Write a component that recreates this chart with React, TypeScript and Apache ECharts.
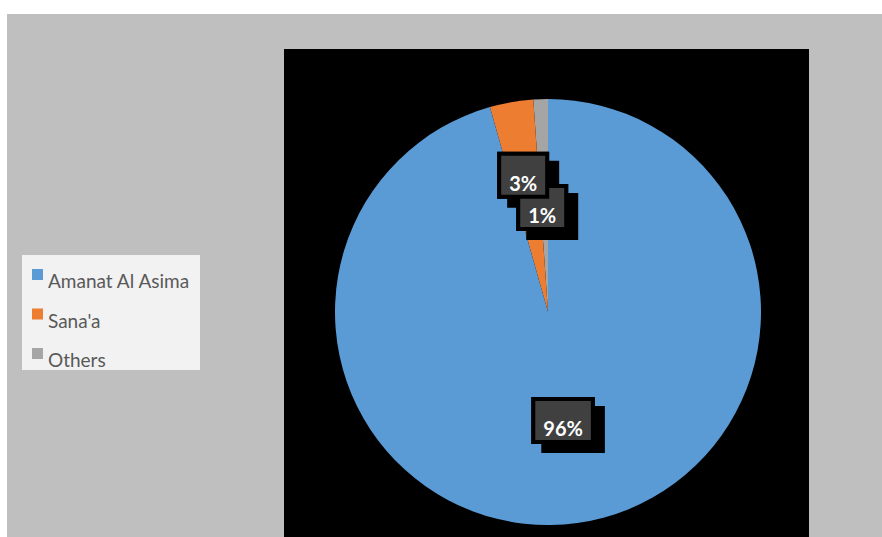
import React, { useEffect, useRef } from "react";
import * as echarts from "echarts";

const categories = ["Amanat Al Asima", "Sana'a", "Others"];
const values = [95.6, 3.3, 1.1];
const colors = ["#5B9BD5", "#ED7D31", "#A5A5A5"];

export default function App() {
  const ref = useRef<HTMLDivElement>(null);
  useEffect(() => {
    if (!ref.current) return;
    const chart = echarts.init(ref.current, undefined, { renderer: "svg" });
    // data drawn in reverse (counter-clockwise) so that the "3%" label sits above "1%"
    const order = [2, 1, 0];
    const labelShift: Record<string, [number, number]> = {
      "Amanat Al Asima": [0, 0],
      "Sana'a": [-6, -29],
      Others: [-2, 5],
    };
    const makeSeries = (shadowLayer: boolean) => ({
      type: "pie",
      name: shadowLayer ? "share" : "share-labels",
      center: [548, 312],
      radius: 213,
      startAngle: 90,
      clockwise: false,
      silent: !shadowLayer,
      data: order.map((i) => ({
        name: categories[i],
        value: values[i],
        itemStyle: { color: shadowLayer ? colors[i] : "rgba(0,0,0,0)" },
      })),
      itemStyle: { borderWidth: 0 },
      label: {
        show: true,
        position: "inside",
        formatter: (p: any) => "{s| }\n{v|" + Math.round(p.percent) + "%}",
        color: "#FFFFFF",
        fontFamily: "Lato",
        fontWeight: "bold",
        fontSize: 20,
        backgroundColor: shadowLayer ? "#000000" : "#404040",
        borderColor: "#000000",
        borderWidth: 4,
        padding: [3, 8, 2, 8],
        shadowColor: shadowLayer ? "#000000" : "transparent",
        shadowBlur: 0,
        shadowOffsetX: shadowLayer ? 10 : 0,
        shadowOffsetY: shadowLayer ? 9 : 0,
        rich: {
          s: { fontSize: 1, lineHeight: 14 },
          v: {
            fontFamily: "Lato",
            fontWeight: "bold",
            fontSize: 20,
            lineHeight: 20,
            color: shadowLayer ? "rgba(0,0,0,0)" : "#FFFFFF",
          },
        },
      },
      labelLine: { show: false },
      labelLayout: (params: any) => {
        const name = categories[order[params.dataIndex]];
        const s = labelShift[name] || [0, 0];
        return { dx: s[0], dy: s[1] };
      },
      emphasis: { disabled: true },
    });
    chart.setOption({
      animation: false,
      backgroundColor: "#FFFFFF",
      graphic: [
        { type: "rect", z: 0, shape: { x: 7, y: 14, width: 875, height: 523 }, style: { fill: "#BFBFBF" } },
        { type: "rect", z: 0, shape: { x: 284, y: 49, width: 525, height: 488 }, style: { fill: "#000000" } },
        { type: "rect", z: 0, shape: { x: 22, y: 255, width: 178, height: 115 }, style: { fill: "#F2F2F2" } },
      ],
      legend: {
        orient: "vertical",
        left: 32,
        top: 269,
        padding: 0,
        itemWidth: 11,
        itemHeight: 23,
        itemGap: 16.5,
        icon: "path://M0,0H11V11H0Z M0,23L0,23",
        data: categories,
        textStyle: {
          fontFamily: "Lato",
          fontSize: 19,
          lineHeight: 20,
          color: "#595959",
        },
      },
      series: [makeSeries(true), makeSeries(false)],
    });
    return () => chart.dispose();
  }, []);
  return (
    <div
      ref={ref}
      style={{ position: "fixed", left: 0, top: 0, width: 882, height: 537 }}
    />
  );
}
